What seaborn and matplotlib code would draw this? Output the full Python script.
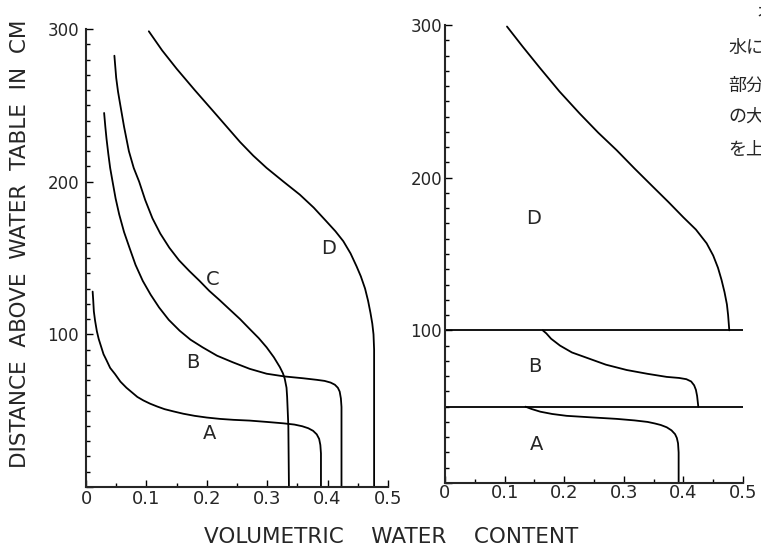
import matplotlib
matplotlib.use("Agg")
import matplotlib.pyplot as plt
import numpy as np
import pandas as pd
import seaborn as sns
from matplotlib.ticker import MultipleLocator, FixedLocator, FixedFormatter

# ---------------- data (volumetric water content vs height above water table, cm)
# Left panel: homogeneous soils A-D
left_A_theta = [0.011, 0.012, 0.013, 0.015, 0.018, 0.021, 0.025, 0.029, 0.034, 0.040, 0.048, 0.057,
                0.067, 0.076, 0.085, 0.095, 0.106, 0.118, 0.130, 0.145, 0.161, 0.180, 0.200, 0.222,
                0.244, 0.271, 0.300, 0.327, 0.345, 0.358, 0.368, 0.376, 0.382, 0.386, 0.388, 0.389, 0.389]
left_A_height = [128, 122, 115, 109, 102, 97, 92, 87, 83, 78, 74, 69,
                 65, 62, 59, 56.7, 54.6, 52.7, 51, 49.5, 48, 46.6, 45.5, 44.6,
                 44, 43.5, 42.6, 41.7, 40.9, 39.8, 38.5, 36.8, 34.5, 31.5, 27.5, 22, 0]

left_B_theta = [0.030, 0.032, 0.034, 0.037, 0.040, 0.044, 0.049, 0.055, 0.063, 0.072, 0.082, 0.094,
                0.107, 0.121, 0.137, 0.155, 0.173, 0.193, 0.217, 0.243, 0.271, 0.299, 0.329, 0.360,
                0.382, 0.395, 0.405, 0.412, 0.417, 0.420, 0.422, 0.423, 0.423]
left_B_height = [245, 236, 228, 218, 209, 200, 189, 178.5, 167, 156.7, 145.5, 135,
                 126, 117.6, 109.5, 102.4, 96.5, 91.5, 86, 81.7, 77.4, 74.2, 72.4, 71.2,
                 70.2, 69.5, 68.4, 67, 65, 62.5, 58, 52.4, 0]

left_C_theta = [0.047, 0.050, 0.053, 0.056, 0.063, 0.071, 0.079, 0.088, 0.098, 0.110, 0.123, 0.138,
                0.154, 0.171, 0.188, 0.204, 0.221, 0.237, 0.255, 0.271, 0.286, 0.299, 0.311, 0.321,
                0.326, 0.329, 0.332, 0.333, 0.335, 0.336]
left_C_height = [282.5, 268, 259, 252, 236, 220, 209, 200, 188, 176, 166, 156.7,
                 148.5, 141.5, 135, 128.5, 122.5, 116.6, 110, 103.5, 97.5, 91.5, 85, 78.5,
                 74.5, 71, 65, 59, 40, 0]

left_D_theta = [0.104, 0.126, 0.150, 0.180, 0.211, 0.233, 0.255, 0.277, 0.299, 0.327, 0.354, 0.377,
                0.398, 0.413, 0.426, 0.438, 0.448, 0.455, 0.462, 0.467, 0.471, 0.474, 0.476, 0.477,
                0.477]
left_D_height = [298.5, 286, 274, 260, 246, 236, 226, 217, 209, 200, 191.5, 183,
                 174, 167.5, 161, 153, 144.5, 138, 130, 122, 114, 107, 100, 90,
                 0]

# Right panel: layered profile (A below 50 cm, B 50-100 cm, D above 100 cm)
right_D_theta = [0.104, 0.130, 0.159, 0.192, 0.226, 0.257, 0.288, 0.318, 0.349, 0.375, 0.400, 0.421,
                 0.439, 0.450, 0.458, 0.464, 0.469, 0.473, 0.475, 0.477]
right_D_height = [299, 286, 272, 256.5, 242, 229.5, 218, 206, 194, 184, 174, 166,
                  157, 149, 141, 133, 125, 117, 110, 100]

right_B_theta = [0.164, 0.170, 0.178, 0.193, 0.213, 0.238, 0.270, 0.305, 0.340, 0.372, 0.393, 0.405,
                 0.413, 0.418, 0.421, 0.423, 0.425]
right_B_height = [100, 98, 94.5, 90, 85.5, 82, 77.5, 74, 71.5, 69.5, 68.8, 68,
                  66.5, 64, 61, 57, 50]

right_A_theta = [0.135, 0.145, 0.160, 0.180, 0.204, 0.245, 0.288, 0.318, 0.340, 0.352, 0.362, 0.372,
                 0.380, 0.386, 0.389, 0.391, 0.392, 0.392]
right_A_height = [50, 48.5, 46.7, 45.2, 44, 43, 42, 41, 40, 39, 38, 36.5,
                  34.5, 32, 29.5, 26, 20, 0]

layer_boundaries = [50, 100]

# curve labels
left_labels = ["A", "B", "C", "D"]
left_label_x = [0.205, 0.177, 0.210, 0.402]
left_label_y = [35, 81.7, 136, 156.5]
right_labels = ["A", "B", "D"]
right_label_x = [0.154, 0.151, 0.148]
right_label_y = [25, 76, 173.4]

x_ticks = [0, 0.1, 0.2, 0.3, 0.4, 0.5]
x_ticklabels = ["0", "0.1", "0.2", "0.3", "0.4", "0.5"]
y_ticks = [0, 100, 200, 300]
y_ticklabels = ["", "100", "200", "300"]

ylabel_text = "DISTANCE  ABOVE  WATER  TABLE  IN  CM"
xlabel_text = "VOLUMETRIC    WATER    CONTENT"
jp_lines = ["オ", "水に", "部分", "の大", "を上"]

# ---------------- build tables
def make_df(curves):
    rows = []
    for name, th, h in curves:
        rows.append(pd.DataFrame({"theta": th, "height": h, "curve": name}))
    return pd.concat(rows, ignore_index=True)

df_left = make_df([("A", left_A_theta, left_A_height), ("B", left_B_theta, left_B_height),
                   ("C", left_C_theta, left_C_height), ("D", left_D_theta, left_D_height)])
df_right = make_df([("A", right_A_theta, right_A_height), ("B", right_B_theta, right_B_height),
                    ("D", right_D_theta, right_D_height)])

# ---------------- style
sns.set_style("ticks")
plt.rcParams["font.family"] = ["DejaVu Sans", "Noto Sans CJK JP"]
plt.rcParams["axes.linewidth"] = 1.5

W, H = 761, 550
fig = plt.figure(figsize=(W / 100, H / 100), dpi=100)
fig.patch.set_facecolor("white")

ax1 = fig.add_axes([86 / W, 1 - 487 / H, (388 - 86) / W, (487 - 29) / H])
ax2 = fig.add_axes([445 / W, 1 - 483 / H, (743 - 445) / W, (483 - 25) / H])

for ax, df in ((ax1, df_left), (ax2, df_right)):
    sns.lineplot(data=df, x="theta", y="height", units="curve", estimator=None, sort=False,
                 color="black", linewidth=1.3, ax=ax, legend=False)
    for ln in ax.get_lines():
        ln.set_solid_joinstyle("round")

ax2.hlines(layer_boundaries, 0, 0.5, color="black", linewidth=1.3)

for t, x, y in zip(left_labels, left_label_x, left_label_y):
    ax1.text(x, y, t, ha="center", va="center", fontsize=14)
for t, x, y in zip(right_labels, right_label_x, right_label_y):
    ax2.text(x, y, t, ha="center", va="center", fontsize=14)

for ax, ypad, xpad in ((ax1, 5, 2.5), (ax2, 2, 1)):
    ax.set_xlim(0, 0.5)
    ax.set_ylim(0, 300)
    ax.set_xlabel("")
    ax.set_ylabel("")
    sns.despine(ax=ax)
    ax.xaxis.set_major_locator(FixedLocator(x_ticks))
    ax.xaxis.set_major_formatter(FixedFormatter(x_ticklabels))
    ax.xaxis.set_minor_locator(MultipleLocator(0.05))
    ax.yaxis.set_major_locator(FixedLocator(y_ticks))
    ax.yaxis.set_major_formatter(FixedFormatter(y_ticklabels))
    ax.yaxis.set_minor_locator(MultipleLocator(10))
    ax.tick_params(axis="both", which="both", direction="in", color="black", width=1.0)
    ax.tick_params(axis="both", which="major", length=5)
    ax.tick_params(axis="both", which="minor", length=3)
    ax.tick_params(axis="x", which="major", labelsize=13, pad=xpad)
    ax.tick_params(axis="y", which="major", labelsize=12, pad=ypad)
    ax.set_facecolor("white")

fig.text(20 / W, 1 - 244 / H, ylabel_text, rotation=90, ha="center", va="center", fontsize=15.5)
fig.text(391 / W, 1 - 537 / H, xlabel_text, ha="center", va="center", fontsize=15.5)

jp_x = [756, 728, 728, 728, 728]
jp_y = [13, 48, 86, 117, 150]
for t, x, y in zip(jp_lines, jp_x, jp_y):
    fig.text(x / W, 1 - y / H, t, ha="left", va="center", fontsize=13,
             family=["Noto Sans CJK JP", "DejaVu Sans"])

fig.savefig("out.png", dpi=100)
